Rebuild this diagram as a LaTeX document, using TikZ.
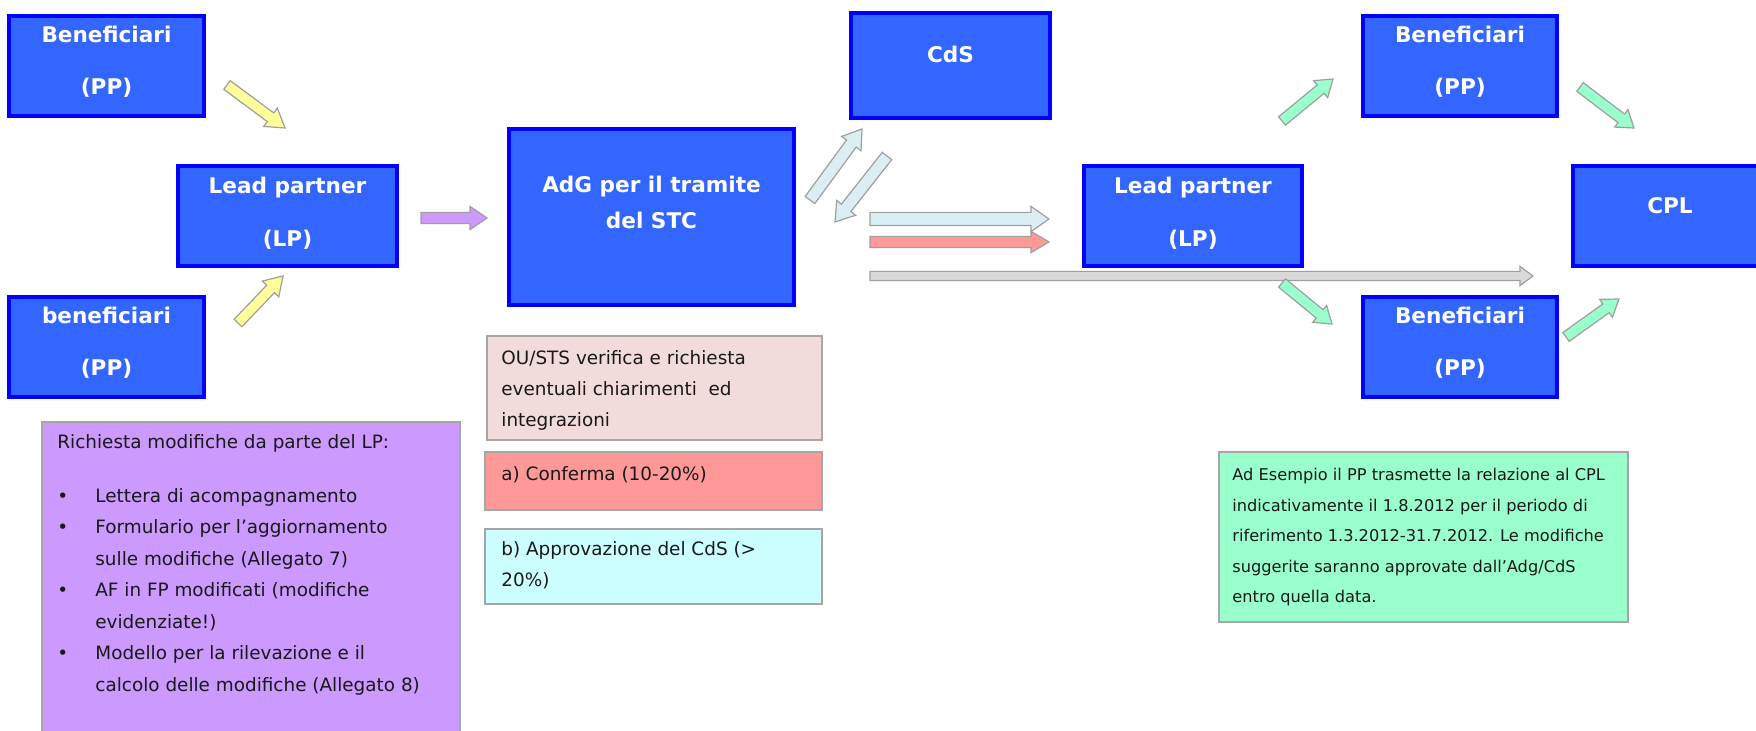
\documentclass[tikz,border=0pt]{standalone}
\usepackage{fontspec}
\setmainfont{DejaVu Sans}
\usetikzlibrary{calc}
\definecolor{boxblue}{RGB}{51,102,255}
\definecolor{boxborder}{RGB}{0,0,255}
\definecolor{arryellow}{RGB}{255,255,153}
\definecolor{arrpurple}{RGB}{204,153,255}
\definecolor{arrlblue}{RGB}{219,238,243}
\definecolor{arrred}{RGB}{255,153,153}
\definecolor{arrgray}{RGB}{217,217,217}
\definecolor{arrgreen}{RGB}{153,255,204}
\definecolor{notepink}{RGB}{242,220,219}
\definecolor{notecyan}{RGB}{204,255,255}
\tikzset{
  bluebox/.style={draw=boxborder, fill=boxblue, line width=2pt, inner sep=0pt,
    minimum width=97.5pt, minimum height=50pt},
  boxtxt/.style={text=white, font=\bfseries\fontsize{10.8pt}{13pt}\selectfont,
    anchor=base, inner sep=0pt},
  notebox/.style={draw=gray!70, line width=0.8pt, inner sep=0pt, anchor=north west},
  notetxt/.style={font=\fontsize{9.2pt}{15.5pt}\selectfont, align=left,
    anchor=north west, inner sep=0pt, text=black!90},
  fatarr/.style={draw=gray!75, line width=0.6pt}
}
% block arrow: fill, from, to, half shaft, half head, head length
\newcommand\fatarrow[6]{%
  \coordinate (fa-h) at ($(#3)!#6!(#2)$);
  \filldraw[fatarr, fill=#1]
    ($(#2)!#4!90:(#3)$) -- ($(fa-h)!#4!90:(#3)$) -- ($(fa-h)!#5!90:(#3)$) -- (#3)
    -- ($(fa-h)!#5!-90:(#3)$) -- ($(fa-h)!#4!-90:(#3)$) -- ($(#2)!#4!-90:(#3)$) -- cycle;
}
\newcommand\pbul{\makebox[19pt][l]{•}}
\newcommand\pind{\makebox[19pt]{}}

\begin{document}
\begin{tikzpicture}[x=0.5pt,y=-0.5pt]
    \useasboundingbox (0,0) rectangle (1756,731);
    \clip (0,0) rectangle (1756,731);

    % left side
    \node[bluebox] (PP1) at (106.5,66) {};
    \node[boxtxt] (PP1a) at (106.5,43) {Beneficiari};
    \node[boxtxt] (PP1b) at (106.5,95) {(PP)};
    \node[bluebox] (PP2) at (106.5,347) {};
    \node[boxtxt] (PP2a) at (106.5,324) {beneficiari};
    \node[boxtxt] (PP2b) at (106.5,376) {(PP)};
    \node[bluebox, minimum width=109.5pt] (LP1) at (287.5,216) {};
    \node[boxtxt] (LP1a) at (287.5,194) {Lead partner};
    \node[boxtxt] (LP1b) at (287.5,247) {(LP)};

    \node[bluebox, minimum width=142.5pt, minimum height=88pt] (AdG) at (651.5,217) {};
    \node[boxtxt] (AdGa) at (651.5,193) {AdG per il tramite};
    \node[boxtxt] (AdGb) at (651.5,229) {del STC};
    \node[bluebox, minimum width=99.5pt, minimum height=52.5pt] (CdS) at (950.5,65.5) {};
    \node[boxtxt] (CdSa) at (950.5,63) {CdS};

    % right side
    \node[bluebox, minimum width=109pt] (LP2) at (1193,216) {};
    \node[boxtxt] (LP2a) at (1193,194) {Lead partner};
    \node[boxtxt] (LP2b) at (1193,247) {(LP)};
    \node[bluebox, minimum width=97pt] (PP3) at (1460,66) {};
    \node[boxtxt] (PP3a) at (1460,43) {Beneficiari};
    \node[boxtxt] (PP3b) at (1460,95) {(PP)};
    \node[bluebox, minimum width=97pt] (PP4) at (1460,347) {};
    \node[boxtxt] (PP4a) at (1460,324) {Beneficiari};
    \node[boxtxt] (PP4b) at (1460,376) {(PP)};
    \node[bluebox, minimum width=97pt] (CPL) at (1670,216) {};
    \node[boxtxt] (CPLa) at (1670,214) {CPL};

    % arrows
    \coordinate (y1s) at (227,85);   \coordinate (y1e) at (285,128);
    \coordinate (y2s) at (238,323);  \coordinate (y2e) at (283,276);
    \coordinate (p1s) at (421,218);  \coordinate (p1e) at (487,218);
    \coordinate (c1s) at (810,200);  \coordinate (c1e) at (862,129);
    \coordinate (c2s) at (887,156);  \coordinate (c2e) at (835,222);
    \coordinate (h1s) at (870,219);  \coordinate (h1e) at (1049,219);
    \coordinate (r1s) at (870,242);  \coordinate (r1e) at (1049,242);
    \coordinate (g0s) at (870,276);  \coordinate (g0e) at (1533,276);
    \coordinate (g1s) at (1282,121); \coordinate (g1e) at (1333,79);
    \coordinate (g2s) at (1580,87);  \coordinate (g2e) at (1634,128);
    \coordinate (g3s) at (1282,283); \coordinate (g3e) at (1332,324);
    \coordinate (g4s) at (1566,337); \coordinate (g4e) at (1619,299);
    \fatarrow{arryellow}{y1s}{y1e}{2.7pt}{5.7pt}{9pt}
    \fatarrow{arryellow}{y2s}{y2e}{2.7pt}{5.7pt}{9pt}
    \fatarrow{arrpurple}{p1s}{p1e}{2.8pt}{5.8pt}{8.5pt}
    \fatarrow{arrlblue}{c1s}{c1e}{3pt}{6pt}{9pt}
    \fatarrow{arrlblue}{c2s}{c2e}{3pt}{6pt}{9pt}
    \fatarrow{arrlblue}{h1s}{h1e}{3.3pt}{6.3pt}{9pt}
    \fatarrow{arrred}{r1s}{r1e}{2.8pt}{5.3pt}{9pt}
    \fatarrow{arrgray}{g0s}{g0e}{2.3pt}{4.8pt}{6.5pt}
    \fatarrow{arrgreen}{g1s}{g1e}{2.7pt}{5.5pt}{8pt}
    \fatarrow{arrgreen}{g2s}{g2e}{2.7pt}{5.5pt}{8pt}
    \fatarrow{arrgreen}{g3s}{g3e}{2.7pt}{5.5pt}{8pt}
    \fatarrow{arrgreen}{g4s}{g4e}{2.7pt}{5.5pt}{8pt}

    % notes
    \node[notebox, fill=notepink, minimum width=167.5pt, minimum height=52pt] (OU) at (486,335) {};
    \node[notetxt] (OUt) at (501,350) {OU/STS verifica e richiesta\\eventuali chiarimenti\ \ ed\\integrazioni};
    \node[notebox, fill=arrred, minimum width=168.5pt, minimum height=29pt] (Conf) at (484,451) {};
    \node[notetxt] (Conft) at (501,466) {a) Conferma (10-20\%)};
    \node[notebox, fill=notecyan, minimum width=168.5pt, minimum height=37.5pt] (Appr) at (484,528) {};
    \node[notetxt] (Apprt) at (501,541) {b) Approvazione del CdS (>\\20\%)};

    \node[notebox, fill=arrpurple, minimum width=209pt, minimum height=162pt] (Rich) at (41,421) {};
    \node[notetxt, font=\fontsize{9.2pt}{15.75pt}\selectfont] (Richt) at (57,434) {Richiesta modifiche da parte del LP:\\[11.3pt]
      \pbul Lettera di acompagnamento\\
      \pbul Formulario per l’aggiornamento\\
      \pind sulle modifiche (Allegato 7)\\
      \pbul AF in FP modificati (modifiche\\
      \pind evidenziate!)\\
      \pbul Modello per la rilevazione e il\\
      \pind calcolo delle modifiche (Allegato 8)};

    \node[notebox, fill=arrgreen, minimum width=204.5pt, minimum height=85pt] (Es) at (1218,451) {};
    \node[notetxt, font=\fontsize{8.1pt}{15.25pt}\selectfont] (Est) at (1232,468) {Ad Esempio il PP trasmette la relazione al CPL\\
      indicativamente il 1.8.2012 per il periodo di\\
      riferimento 1.3.2012-31.7.2012. Le modifiche\\
      suggerite saranno approvate dall'Adg/CdS\\
      entro quella data.};
\end{tikzpicture}
\end{document}
